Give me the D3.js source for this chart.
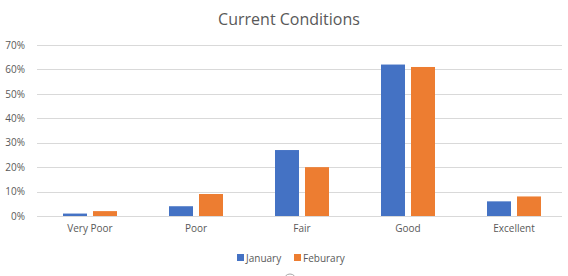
<!DOCTYPE html>
<html>
<head>
<meta charset="utf-8">
<script src="https://cdn.jsdelivr.net/npm/d3@7"></script>
<style>
  body { margin: 0; background: #fff; }
  svg text { font-family: "Open Sans", "Liberation Sans", sans-serif; }
</style>
</head>
<body>
<svg id="chart" width="568" height="276"></svg>
<script>
const categories = ["Very Poor", "Poor", "Fair", "Good", "Excellent"];
const seriesNames = ["January", "Feburary"];
const january = [0.01, 0.04, 0.27, 0.62, 0.06];
const february = [0.02, 0.09, 0.20, 0.61, 0.08];
const yTicks = [0, 0.1, 0.2, 0.3, 0.4, 0.5, 0.6, 0.7];
const colors = ["#4472c4", "#ed7d31"];

const width = 568, height = 276;
const margin = {top: 45, right: 6, bottom: 60, left: 37};

const svg = d3.select("#chart");

// category bands run a bit past the gridline end, like the original
const x = d3.scaleBand()
    .domain(categories)
    .range([margin.left, width - 1]);

const y = d3.scaleLinear()
    .domain([0, 0.7])
    .range([height - margin.bottom, margin.top]);

const x1 = d3.scaleBand()
    .domain(seriesNames)
    .range([x.bandwidth() / 2 - 27, x.bandwidth() / 2 + 27])
    .paddingInner(0.2);

// gridlines
svg.append("g")
    .selectAll("line")
    .data(yTicks)
    .enter().append("line")
    .attr("x1", margin.left)
    .attr("x2", width - margin.right)
    .attr("y1", d => Math.round(y(d)) + 0.5)
    .attr("y2", d => Math.round(y(d)) + 0.5)
    .style("stroke", "#d9d9d9")
    .style("stroke-width", "1px");

// y axis labels
const yAxis = d3.axisLeft(y)
    .tickValues(yTicks)
    .tickFormat(d3.format(".0%"))
    .tickSize(0)
    .tickPadding(0);

svg.append("g")
    .attr("transform", `translate(${margin.left - 12},0)`)
    .call(yAxis)
    .call(g => g.select(".domain").remove())
    .selectAll("text")
    .style("font-size", "10px")
    .style("fill", "#595959");

// bars
const data = categories.map((c, i) => ({cat: c, values: [january[i], february[i]]}));

svg.append("g")
    .selectAll("g")
    .data(data)
    .enter().append("g")
    .attr("transform", d => `translate(${x(d.cat)},0)`)
    .selectAll("rect")
    .data(d => d.values.map((v, j) => ({name: seriesNames[j], value: v, j: j})))
    .enter().append("rect")
    .attr("x", d => x1(d.name))
    .attr("width", x1.bandwidth())
    .attr("y", d => y(d.value))
    .attr("height", d => y(0) - y(d.value))
    .style("fill", d => colors[d.j]);

// x axis labels
const xAxis = d3.axisBottom(x).tickSize(0).tickPadding(9);
svg.append("g")
    .attr("transform", `translate(0,${height - margin.bottom})`)
    .call(xAxis)
    .call(g => g.select(".domain").remove())
    .selectAll("text")
    .style("font-size", "10px")
    .style("fill", "#595959");

// title
svg.append("text")
    .attr("x", 289)
    .attr("y", 25)
    .attr("text-anchor", "middle")
    .style("font-size", "16px")
    .style("fill", "#595959")
    .text("Current Conditions");

// legend
const legendPos = [237, 294];
const legend = svg.append("g")
    .selectAll("g")
    .data(seriesNames)
    .enter().append("g")
    .attr("transform", (d, i) => `translate(${legendPos[i]},254)`);

legend.append("rect")
    .attr("width", 7)
    .attr("height", 7)
    .style("fill", (d, i) => colors[i]);

legend.append("text")
    .attr("x", 9)
    .attr("y", 7.5)
    .style("font-size", "10px")
    .style("fill", "#595959")
    .text(d => d);

// selection handle at the bottom edge
svg.append("circle")
    .attr("cx", 290)
    .attr("cy", 280)
    .attr("r", 6)
    .style("fill", "#fff")
    .style("stroke", "#a6a6a6");
</script>
</body>
</html>
